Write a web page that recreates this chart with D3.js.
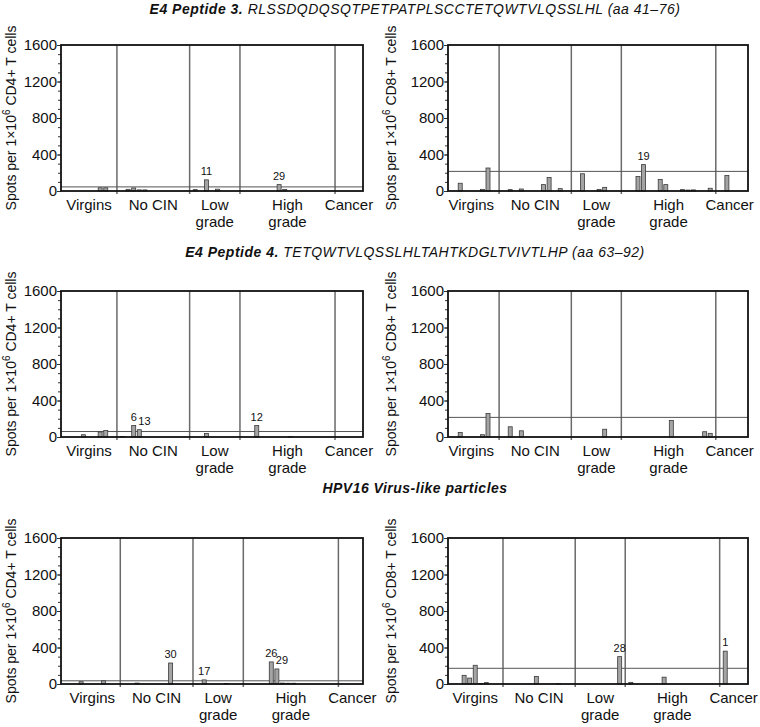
<!DOCTYPE html>
<html>
<head>
<meta charset="utf-8">
<script src="https://cdn.jsdelivr.net/npm/d3@7"></script>
<style>
  body { margin: 0; background: #fff; }
  text { font-family: "Liberation Sans", Arial, Helvetica, sans-serif; fill: #111; }
</style>
</head>
<body>
<svg id="fig" width="760" height="727"></svg>
<script>
// patient groups (x axis), same order in every panel
let groups = ["Virgins", "No CIN", "Low grade", "High grade", "Cancer"];
let groupLabels = [["Virgins"], ["No CIN"], ["Low", "grade"], ["High", "grade"], ["Cancer"]];
let groupSizes = [9, 12, 8, 16, 4];
let yTicks = [0, 400, 800, 1200, 1600];

// spots per 1x10^6 T cells, one value per patient, per group
let e4p3_cd4 = [
  [0, 0, 0, 0, 0, 0, 35, 35, 0],
  [0, 18, 33, 12, 12, 0, 0, 0, 0, 0, 0, 0],
  [15, 0, 122, 0, 20, 0, 0, 0],
  [0, 0, 0, 0, 0, 0, 70, 18, 0, 0, 0, 0, 0, 0, 0, 0],
  [0, 0, 0, 0]
];
let e4p3_cd8 = [
  [0, 0, 85, 0, 0, 0, 18, 252, 0],
  [0, 15, 0, 22, 0, 0, 0, 70, 148, 0, 26, 0],
  [0, 189, 0, 0, 18, 40, 0, 0],
  [0, 0, 160, 289, 0, 0, 126, 70, 0, 0, 15, 10, 12, 0, 0, 30],
  [0, 170, 0, 0]
];
let e4p4_cd4 = [
  [0, 0, 0, 25, 0, 0, 55, 72, 0],
  [5, 0, 126, 80, 0, 0, 0, 0, 0, 0, 0, 0],
  [0, 0, 38, 0, 0, 0, 0, 0],
  [0, 0, 126, 0, 0, 0, 0, 0, 4, 0, 0, 0, 0, 0, 0, 0],
  [0, 0, 0, 0]
];
let e4p4_cd8 = [
  [0, 0, 50, 0, 0, 0, 25, 257, 0],
  [0, 112, 0, 68, 0, 0, 0, 0, 0, 0, 0, 0],
  [0, 0, 0, 0, 0, 85, 0, 0],
  [0, 0, 0, 0, 0, 0, 0, 0, 182, 0, 0, 0, 0, 0, 58, 40],
  [0, 0, 0, 0]
];
let vlp_cd4 = [
  [0, 0, 25, 0, 0, 0, 35, 0, 0],
  [0, 0, 10, 0, 0, 0, 0, 0, 230, 0, 0, 0],
  [0, 45, 0, 0, 0, 5, 0, 0],
  [0, 0, 0, 0, 242, 165, 10, 8, 8, 0, 0, 0, 0, 0, 0, 0],
  [0, 0, 0, 0]
];
let vlp_cd8 = [
  [0, 0, 95, 65, 205, 5, 15, 0, 0],
  [0, 0, 0, 0, 0, 82, 0, 0, 0, 3, 0, 0],
  [0, 0, 0, 0, 0, 0, 0, 300],
  [18, 0, 0, 0, 0, 0, 75, 0, 0, 0, 0, 0, 0, 0, 0, 0],
  [360, 0, 0, 0]
];

// patient numbers written above responding bars: [group, patient, text]
let e4p3_cd4_ids = [[2, 2, "11"], [3, 6, "29"]];
let e4p3_cd8_ids = [[3, 3, "19"]];
let e4p4_cd4_ids = [[1, 2, "6"], [1, 3, "13"], [3, 2, "12"]];
let e4p4_cd8_ids = [];
let vlp_cd4_ids = [[1, 8, "30"], [2, 1, "17"], [3, 4, "26"], [3, 5, "29"]];
let vlp_cd8_ids = [[2, 7, "28"], [4, 0, "1"]];

// cut-off lines
let cutoffs = [45, 215, 60, 215, 35, 172];

let titles = [
  {bold: "E4 Peptide 3.", rest: " RLSSDQDQSQTPETPATPLSCCTETQWTVLQSSLHL (aa 41\u201376)", y: 14},
  {bold: "E4 Peptide 4.", rest: " TETQWTVLQSSLHLTAHTKDGLTVIVTLHP (aa 63\u201392)", y: 257},
  {bold: "HPV16 Virus-like particles", rest: "", y: 493}
];

let svg = d3.select("#fig");

titles.forEach(t => {
  let tx = svg.append("text").attr("x", 415).attr("y", t.y)
    .attr("text-anchor", "middle").style("font-size", "14px")
    .style("letter-spacing", "0.5px").style("font-style", "italic");
  tx.append("tspan").style("font-weight", "bold").text(t.bold);
  if (t.rest) tx.append("tspan").text(t.rest);
});

let panels = [
  {left: 61, right: 363, top: 45, bottom: 191, data: e4p3_cd4, ids: e4p3_cd4_ids, cut: cutoffs[0], cell: "CD4", shift: 0, labelX: 16},
  {left: 448, right: 748, top: 45, bottom: 191, data: e4p3_cd8, ids: e4p3_cd8_ids, cut: cutoffs[1], cell: "CD8", shift: 0.8, labelX: 396},
  {left: 61, right: 363, top: 291, bottom: 437, data: e4p4_cd4, ids: e4p4_cd4_ids, cut: cutoffs[2], cell: "CD4", shift: 0, labelX: 16},
  {left: 448, right: 748, top: 291, bottom: 437, data: e4p4_cd8, ids: e4p4_cd8_ids, cut: cutoffs[3], cell: "CD8", shift: 0.8, labelX: 396},
  {left: 61, right: 363, top: 538, bottom: 684, data: vlp_cd4, ids: vlp_cd4_ids, cut: cutoffs[4], cell: "CD4", shift: -0.6, labelX: 16},
  {left: 448, right: 748, top: 538, bottom: 684, data: vlp_cd8, ids: vlp_cd8_ids, cut: cutoffs[5], cell: "CD8", shift: 0.1, labelX: 396}
];

// slot where each group starts (one empty slot between groups)
let starts = [];
let acc = 0;
for (let i = 0; i < groupSizes.length; i++) {
  starts.push(acc);
  acc += groupSizes[i] + 1;
}
let totalSlots = acc;

panels.forEach(p => drawPanel(p));

function drawPanel(p) {
  let g = svg.append("g");
  let x = d3.scaleLinear().domain([p.shift, p.shift + totalSlots]).range([p.left, p.right]);
  let y = d3.scaleLinear().domain([0, 1600]).range([p.bottom, p.top]);

  // minor ticks
  g.append("g").attr("transform", "translate(" + p.left + ",0)")
    .call(d3.axisLeft(y).tickValues(d3.range(0, 1601, 100)).tickSize(3).tickFormat(""))
    .call(a => a.select(".domain").remove())
    .selectAll("line").attr("stroke", "#333");

  // major ticks + labels
  g.append("g").attr("transform", "translate(" + p.left + ",0)")
    .call(d3.axisLeft(y).tickValues(yTicks).tickSize(4).tickPadding(0).tickFormat(d3.format("d")))
    .call(a => a.select(".domain").remove())
    .call(a => a.selectAll("line").attr("stroke", "#333"))
    .selectAll("text").style("font-size", "15px").attr("fill", "#111");

  // group separators
  for (let i = 1; i < groups.length; i++) {
    let gx = x(starts[i]);
    g.append("line").attr("x1", gx).attr("x2", gx).attr("y1", p.top).attr("y2", p.bottom + 3)
      .attr("stroke", "#6a6a6a").attr("stroke-width", 1.5);
  }

  // cut-off line
  g.append("line").attr("x1", p.left).attr("x2", p.right)
    .attr("y1", y(p.cut)).attr("y2", y(p.cut))
    .attr("stroke", "#555").attr("stroke-width", 1);

  // bars
  let bars = [];
  p.data.forEach((vals, gi) => {
    vals.forEach((v, j) => {
      if (v > 0) bars.push({pos: starts[gi] + j + 1, v: v});
    });
  });
  g.selectAll(".bar").data(bars).enter().append("rect")
    .attr("class", "bar")
    .attr("x", d => x(d.pos) - 2)
    .attr("width", 4)
    .attr("y", d => y(d.v))
    .attr("height", d => p.bottom - y(d.v))
    .attr("fill", "#a4a4a4")
    .attr("stroke", "#3a3a3a")
    .attr("stroke-width", 0.8);

  // patient numbers; a label next to the previous one starts at its bar instead
  let lastX = -100;
  p.ids.forEach(id => {
    let v = p.data[id[0]][id[1]];
    let bx = x(starts[id[0]] + id[1] + 1);
    let crowded = bx - lastX < 12;
    g.append("text")
      .attr("x", crowded ? bx - 1 : bx)
      .attr("y", y(v) - 5)
      .attr("text-anchor", crowded ? "start" : "middle")
      .style("font-size", "11px")
      .text(id[2]);
    lastX = bx;
  });

  // frame
  g.append("rect").attr("x", p.left).attr("y", p.top)
    .attr("width", p.right - p.left).attr("height", p.bottom - p.top)
    .attr("fill", "none").attr("stroke", "#111").attr("stroke-width", 1.8);

  // group names
  groupLabels.forEach((lines, gi) => {
    let cx = x(starts[gi] + (groupSizes[gi] + 1) / 2);
    lines.forEach((ln, k) => {
      g.append("text").attr("x", cx).attr("y", p.bottom + 19 + k * 17)
        .attr("text-anchor", "middle").style("font-size", "15px").text(ln);
    });
  });

  // y axis title
  let ly = (p.top + p.bottom) / 2;
  let lt = g.append("text")
    .attr("transform", "translate(" + p.labelX + "," + ly + ") rotate(-90)")
    .attr("text-anchor", "middle")
    .style("font-size", "14px");
  lt.append("tspan").text("Spots per 1\u00d710");
  lt.append("tspan").attr("dy", -6).style("font-size", "10px").text("6");
  lt.append("tspan").attr("dy", 6).text(" " + p.cell + "+ T cells");
}
</script>
</body>
</html>
